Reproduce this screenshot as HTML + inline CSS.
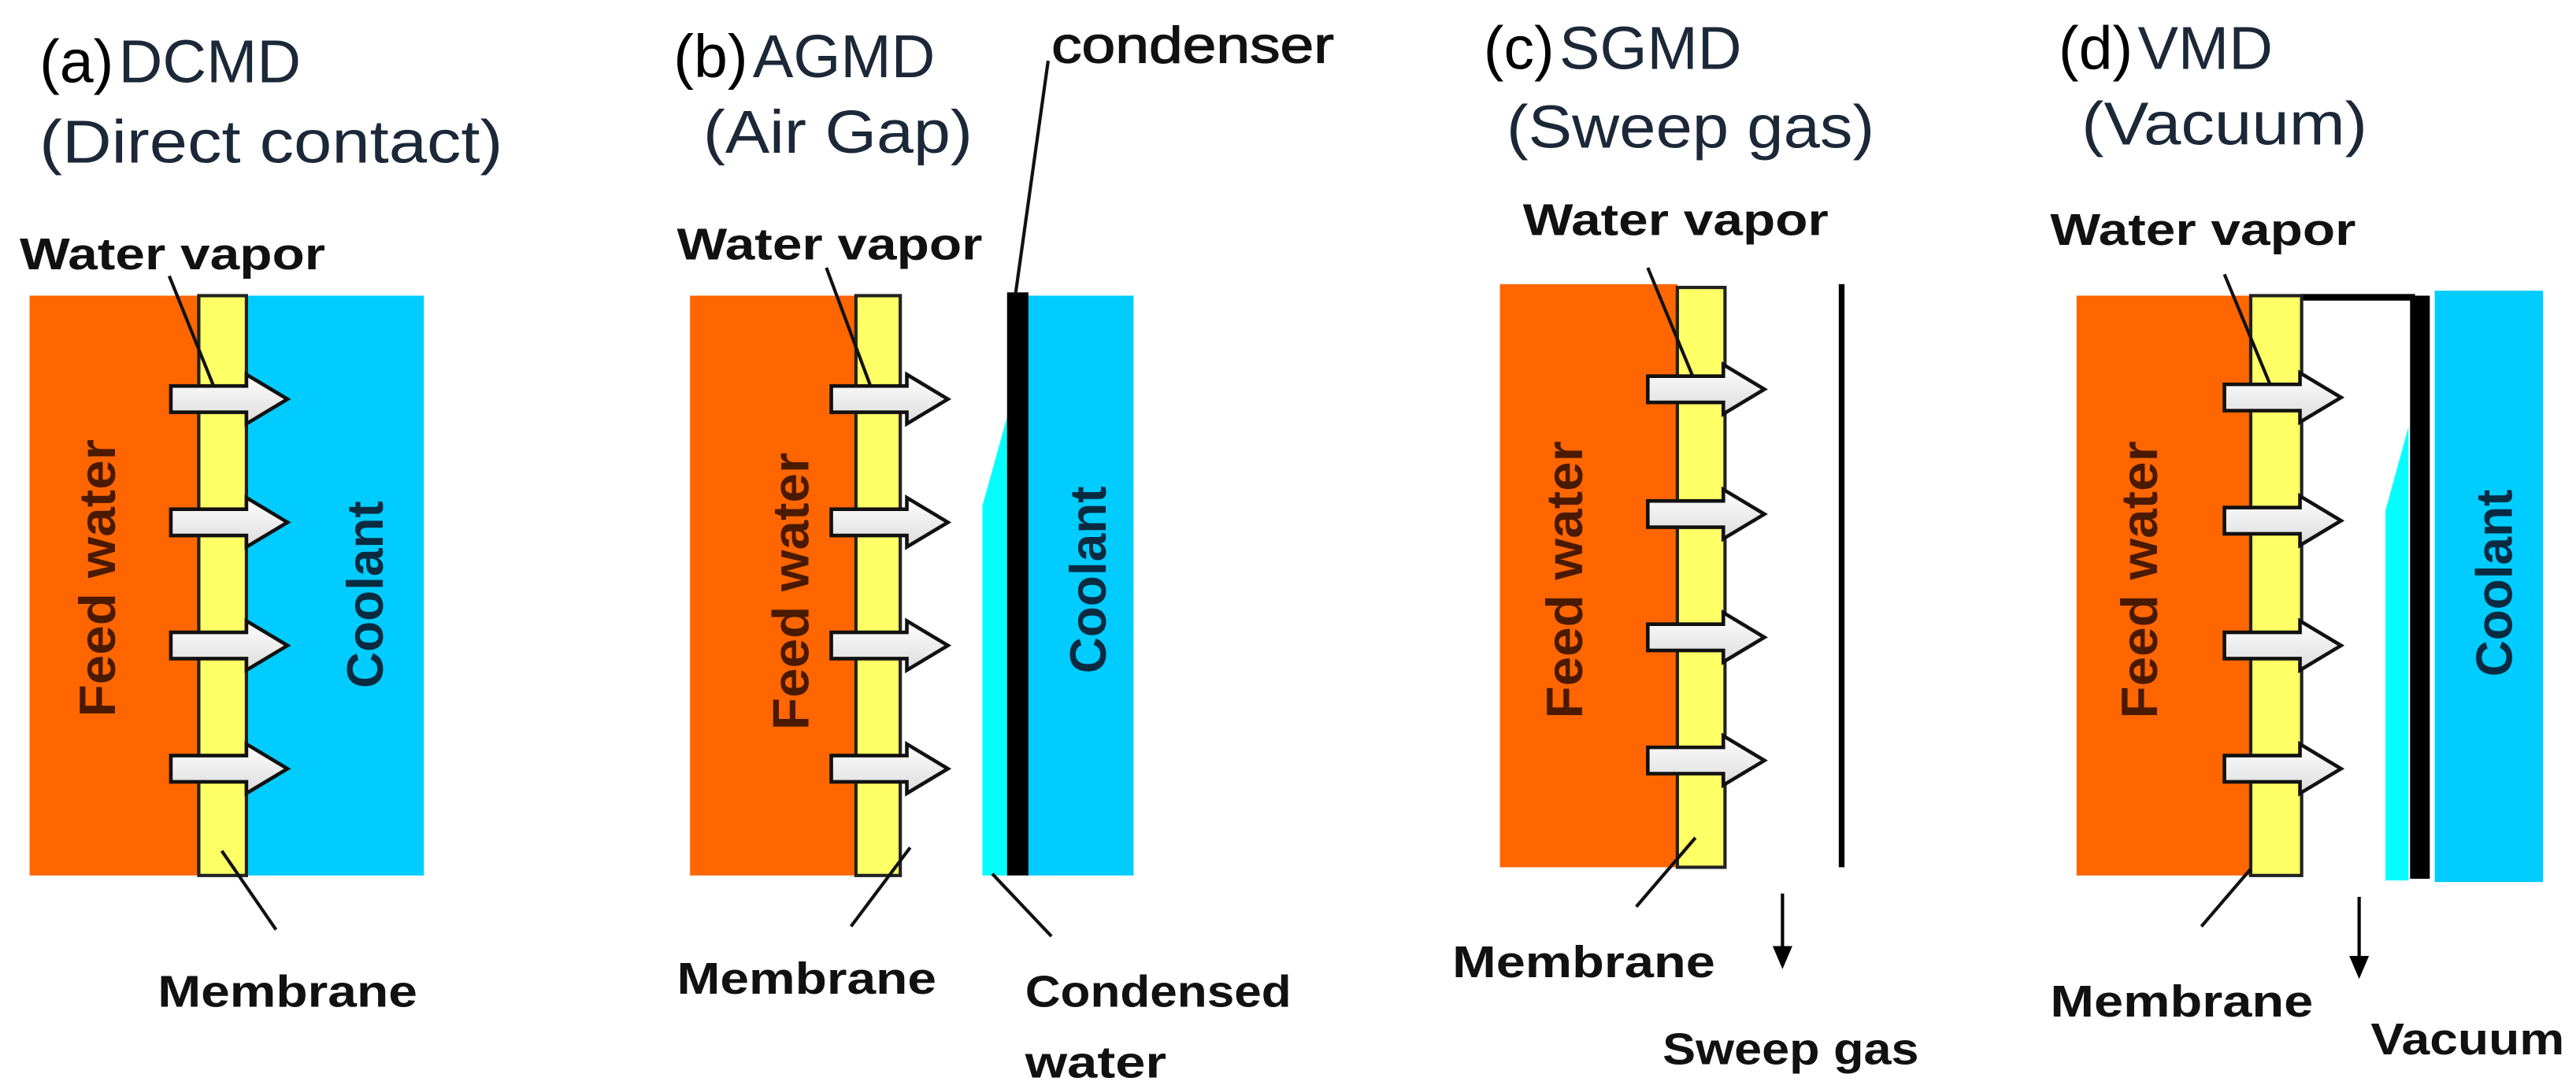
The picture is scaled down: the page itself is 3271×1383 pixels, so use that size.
<!DOCTYPE html>
<html><head><meta charset="utf-8"><style>
html,body{margin:0;padding:0;background:#fff}
svg{display:block}
.t{font-family:"Liberation Sans",sans-serif;font-size:37px;fill:#1b2838}
.b{font-family:"Liberation Sans",sans-serif;font-weight:bold;font-size:27px;fill:#111}
.fw{font-family:"Liberation Sans",sans-serif;font-weight:bold;font-size:31px;fill:#4a1a00}
.cl{font-family:"Liberation Sans",sans-serif;font-weight:bold;font-size:31px;fill:#0a2a40}
</style></head><body>
<svg width="3271" height="1383" viewBox="0 0 1568 663" preserveAspectRatio="none" xmlns="http://www.w3.org/2000/svg">
<defs>
<linearGradient id="ag" x1="0" y1="0" x2="0" y2="1"><stop offset="0" stop-color="#fff"/><stop offset="1" stop-color="#dcdcdc"/></linearGradient>
<g id="arr"><path d="M0,-8 L46,-8 L46,-15 L71,0 L46,15 L46,8 L0,8 Z" fill="url(#ag)" stroke="#111" stroke-width="2.2" stroke-linejoin="miter"/></g>
</defs>

<!-- Panel a -->
<text class="t" x="24" y="50"><tspan fill="#000">(a)</tspan><tspan dx="3">DCMD</tspan></text>
<text class="t" x="24" y="99" textLength="282" lengthAdjust="spacingAndGlyphs">(Direct contact)</text>
<text class="b" x="12" y="164" textLength="186" lengthAdjust="spacingAndGlyphs">Water vapor</text>
<rect x="18" y="180" width="104" height="353" fill="#ff6600"/>
<rect x="150" y="180" width="108" height="353" fill="#00ccff"/>
<rect x="121" y="180" width="29" height="353" fill="#ffff66" stroke="#222" stroke-width="2"/>
<line x1="103" y1="168" x2="132" y2="240" stroke="#111" stroke-width="2"/>
<use href="#arr" x="104" y="243"/><use href="#arr" x="104" y="318"/><use href="#arr" x="104" y="393"/><use href="#arr" x="104" y="468"/>
<line x1="135" y1="518" x2="168" y2="566" stroke="#111" stroke-width="2"/>
<text class="b" x="96" y="613" textLength="158" lengthAdjust="spacingAndGlyphs">Membrane</text>
<text class="fw" transform="translate(70,352) rotate(-90)" text-anchor="middle" textLength="169" lengthAdjust="spacingAndGlyphs">Feed water</text>
<text class="cl" transform="translate(233,362) rotate(-90)" text-anchor="middle" textLength="114" lengthAdjust="spacingAndGlyphs">Coolant</text>

<!-- Panel b -->
<text class="t" x="410" y="47"><tspan fill="#000">(b)</tspan><tspan dx="3">AGMD</tspan></text>
<text class="t" x="428" y="93" textLength="164" lengthAdjust="spacingAndGlyphs">(Air Gap)</text>
<text class="b" x="412" y="158" textLength="186" lengthAdjust="spacingAndGlyphs">Water vapor</text>
<text class="b" x="640" y="38" style="font-size:31px;font-weight:normal;stroke:#111;stroke-width:0.6" textLength="172" lengthAdjust="spacingAndGlyphs">condenser</text>
<rect x="420" y="180" width="102" height="353" fill="#ff6600"/>
<rect x="626" y="180" width="64" height="353" fill="#00ccff"/>
<polygon points="613,254 598,308 598,533 613,533" fill="#00ffff"/>
<rect x="613" y="178" width="13" height="355" fill="#000"/>
<line x1="638" y1="37" x2="618" y2="180" stroke="#111" stroke-width="2"/>
<rect x="521" y="180" width="27" height="353" fill="#ffff66" stroke="#222" stroke-width="2"/>
<line x1="503" y1="163" x2="531" y2="238" stroke="#111" stroke-width="2"/>
<use href="#arr" x="506" y="243"/><use href="#arr" x="506" y="318"/><use href="#arr" x="506" y="393"/><use href="#arr" x="506" y="468"/>
<line x1="554" y1="516" x2="518" y2="564" stroke="#111" stroke-width="2"/>
<line x1="604" y1="532" x2="640" y2="570" stroke="#111" stroke-width="2"/>
<text class="b" x="412" y="605" textLength="158" lengthAdjust="spacingAndGlyphs">Membrane</text>
<text class="b" x="624" y="613" textLength="162" lengthAdjust="spacingAndGlyphs">Condensed</text>
<text class="b" x="624" y="656" textLength="86" lengthAdjust="spacingAndGlyphs">water</text>
<text class="fw" transform="translate(492,360) rotate(-90)" text-anchor="middle" textLength="169" lengthAdjust="spacingAndGlyphs">Feed water</text>
<text class="cl" transform="translate(673,353) rotate(-90)" text-anchor="middle" textLength="114" lengthAdjust="spacingAndGlyphs">Coolant</text>

<!-- Panel c -->
<text class="t" x="903" y="42"><tspan fill="#000">(c)</tspan><tspan dx="3">SGMD</tspan></text>
<text class="t" x="917" y="90" textLength="224" lengthAdjust="spacingAndGlyphs">(Sweep  gas)</text>
<text class="b" x="927" y="143" textLength="186" lengthAdjust="spacingAndGlyphs">Water vapor</text>
<rect x="913" y="173" width="108" height="355" fill="#ff6600"/>
<rect x="1021" y="175" width="29" height="353" fill="#ffff66" stroke="#222" stroke-width="2"/>
<line x1="1121" y1="173" x2="1121" y2="528" stroke="#000" stroke-width="3.5"/>
<line x1="1003" y1="163" x2="1032" y2="233" stroke="#111" stroke-width="2"/>
<use href="#arr" x="1003" y="237"/><use href="#arr" x="1003" y="313"/><use href="#arr" x="1003" y="388"/><use href="#arr" x="1003" y="463"/>
<line x1="1032" y1="510" x2="996" y2="552" stroke="#111" stroke-width="2"/>
<line x1="1085" y1="544" x2="1085" y2="578" stroke="#000" stroke-width="2"/>
<polygon points="1079,576 1091,576 1085,590" fill="#000"/>
<text class="b" x="884" y="595" textLength="160" lengthAdjust="spacingAndGlyphs">Membrane</text>
<text class="b" x="1012" y="648" textLength="156" lengthAdjust="spacingAndGlyphs">Sweep gas</text>
<text class="fw" transform="translate(963,353) rotate(-90)" text-anchor="middle" textLength="169" lengthAdjust="spacingAndGlyphs">Feed water</text>

<!-- Panel d -->
<text class="t" x="1253" y="42"><tspan fill="#000">(d)</tspan><tspan dx="3">VMD</tspan></text>
<text class="t" x="1267" y="88" textLength="174" lengthAdjust="spacingAndGlyphs">(Vacuum)</text>
<text class="b" x="1248" y="149" textLength="186" lengthAdjust="spacingAndGlyphs">Water vapor</text>
<rect x="1264" y="180" width="106" height="353" fill="#ff6600"/>
<rect x="1482" y="177" width="66" height="360" fill="#00ccff"/>
<polygon points="1466,260 1452,311 1452,536 1466,536" fill="#00ffff"/>
<rect x="1467" y="180" width="12" height="355" fill="#000"/>
<line x1="1400" y1="181" x2="1470" y2="181" stroke="#000" stroke-width="4"/>
<rect x="1370" y="180" width="31" height="353" fill="#ffff66" stroke="#222" stroke-width="2"/>
<line x1="1354" y1="167" x2="1383" y2="237" stroke="#111" stroke-width="2"/>
<use href="#arr" x="1354" y="242"/><use href="#arr" x="1354" y="317"/><use href="#arr" x="1354" y="393"/><use href="#arr" x="1354" y="468"/>
<line x1="1370" y1="529" x2="1340" y2="564" stroke="#111" stroke-width="2"/>
<line x1="1436" y1="546" x2="1436" y2="584" stroke="#000" stroke-width="2"/>
<polygon points="1430,582 1442,582 1436,596" fill="#000"/>
<text class="b" x="1248" y="619" textLength="160" lengthAdjust="spacingAndGlyphs">Membrane</text>
<text class="b" x="1443" y="642" textLength="118" lengthAdjust="spacingAndGlyphs">Vacuum</text>
<text class="fw" transform="translate(1313,353) rotate(-90)" text-anchor="middle" textLength="169" lengthAdjust="spacingAndGlyphs">Feed water</text>
<text class="cl" transform="translate(1529,355) rotate(-90)" text-anchor="middle" textLength="114" lengthAdjust="spacingAndGlyphs">Coolant</text>
</svg>
</body></html>
